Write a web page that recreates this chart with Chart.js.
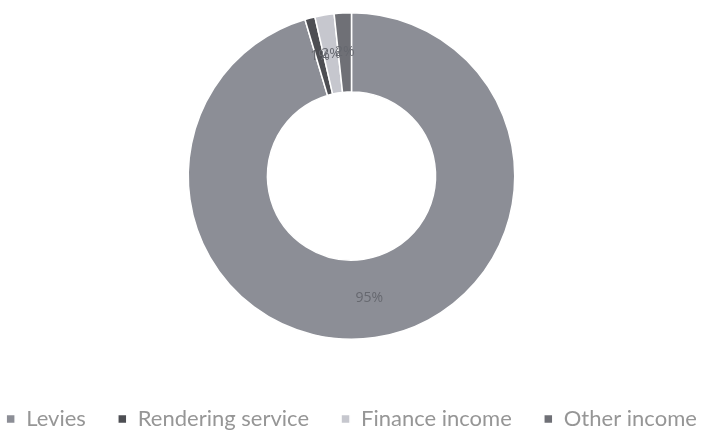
<!DOCTYPE html>
<html>
<head>
<meta charset="utf-8">
<script src="https://cdn.jsdelivr.net/npm/chart.js@4.4.1/dist/chart.umd.min.js"></script>
<style>
  html, body { margin: 0; padding: 0; background: #fff; }
  #wrap { width: 703px; height: 432px; }
</style>
</head>
<body>
<div id="wrap"><canvas id="myChart" width="703" height="432"></canvas></div>
<script>
// income split (percent of total)
const categories = ['Levies', 'Rendering service', 'Finance income', 'Other income'];
const shares = [95.4, 1.0, 1.9, 1.7];
const sliceColors = ['#8c8e96', '#4d4e53', '#c6c7ce', '#6f7076'];

// writes the rounded % on each slice, at the middle of the ring
const pctLabels = {
    id: 'pctLabels',
    afterDatasetsDraw(chart) {
        const ctx = chart.ctx;
        const total = shares.reduce((a, b) => a + b, 0);
        ctx.save();
        ctx.font = '14px "Open Sans"';
        ctx.fillStyle = '#66686f';
        ctx.textAlign = 'center';
        ctx.textBaseline = 'middle';
        chart.getDatasetMeta(0).data.forEach((arc, i) => {
            const p = arc.tooltipPosition();
            ctx.fillText(Math.round(shares[i] / total * 100) + '%', p.x, p.y);
        });
        ctx.restore();
    }
};

const ctx = document.getElementById('myChart');

var chart = new Chart(ctx, {
    type: 'doughnut',
    data: {
        labels: categories,
        datasets: [{
            data: shares,
            backgroundColor: sliceColors,
            borderColor: '#ffffff',
            borderWidth: 1.5
        }]
    },
    options: {
        responsive: false,
        animation: false,
        cutout: '51.5%',
        layout: {
            // negative sides give the legend room to stay on one line
            padding: { top: 12, bottom: -8, left: -30, right: -30 }
        },
        plugins: {
            // empty title used as a gap between the ring and the legend
            title: {
                display: true,
                text: ' ',
                position: 'bottom',
                weight: 500,
                font: { size: 10 },
                padding: { top: 24, bottom: 0 }
            },
            legend: {
                position: 'bottom',
                labels: {
                    boxWidth: 9,
                    boxHeight: 9,
                    padding: 32,
                    color: '#969696',
                    font: { family: 'Lato', size: 22 }
                }
            },
            tooltip: { enabled: false }
        }
    },
    plugins: [pctLabels]
});
</script>
</body>
</html>
